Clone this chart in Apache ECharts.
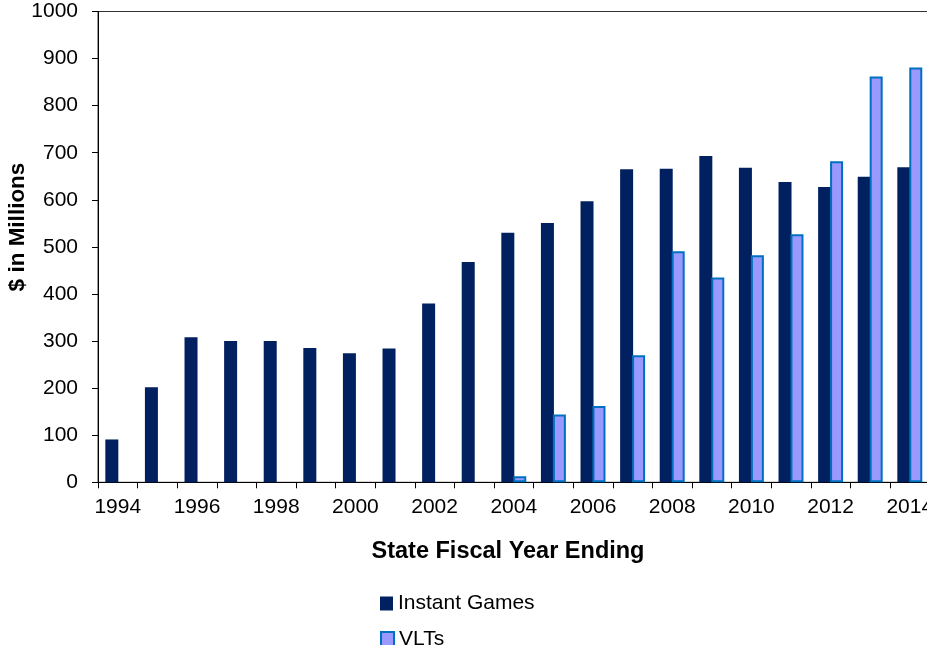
<!DOCTYPE html>
<html>
<head>
<meta charset="utf-8">
<script src="https://cdn.jsdelivr.net/npm/echarts@6/dist/echarts.min.js"></script>
<style>
  html, body { margin: 0; padding: 0; background: #fff; }
  #chart { width: 927px; height: 645px; }
</style>
</head>
<body>
<div id="chart"></div>
<script>
// Fiscal years on the category axis
const years = ['1994','1995','1996','1997','1998','1999','2000','2001','2002','2003','2004',
               '2005','2006','2007','2008','2009','2010','2011','2012','2013','2014'];

// Revenue, $ in millions
const instantGames = [91, 202, 308, 300, 300, 285, 274, 284, 380, 468, 530,
                      551, 597, 665, 666, 693, 668, 638, 627, 649, 669];
const vlts = [null, null, null, null, null, null, null, null, null, null, 13,
              144, 162, 270, 491, 435, 482, 527, 682, 862, 881];

const FONT = '"Liberation Sans", Arial, sans-serif';

const legendBase = {
  orient: 'vertical',
  left: 380,
  padding: 0,
  icon: 'rect',
  itemWidth: 13, itemHeight: 14,
  textStyle: { fontFamily: FONT, fontSize: 21, color: '#000' }
};

const chart = echarts.init(document.getElementById('chart'), null, { renderer: 'canvas' });

chart.setOption({
  animation: false,
  backgroundColor: '#fff',
  grid: {
    left: 98, top: 11.5, bottom: 162.7, right: -2.6,
    containLabel: false, outerBoundsMode: 'none',
    show: true, borderColor: '#333', borderWidth: 1, backgroundColor: 'transparent'
  },
  legend: [
    Object.assign({}, legendBase, { top: 593, data: ['Instant Games'] }),
    Object.assign({}, legendBase, { top: 628.5, data: ['VLTs'] })
  ],
  xAxis: {
    type: 'category',
    data: years,
    boundaryGap: true,
    axisLine: { lineStyle: { color: '#000', width: 1 } },
    axisTick: { show: true, interval: 0, length: 6, lineStyle: { color: '#000' } },
    axisLabel: { interval: 1, margin: 14, fontFamily: FONT, fontSize: 21, color: '#000' },
    splitLine: { show: false }
  },
  yAxis: {
    type: 'value',
    min: 0, max: 1000, interval: 100,
    axisLine: { show: true, lineStyle: { color: '#000', width: 1 } },
    axisTick: { show: true, length: 6, lineStyle: { color: '#000' } },
    axisLabel: { margin: 20, fontFamily: FONT, fontSize: 21, color: '#000',
                 formatter: v => String(v) },
    splitLine: { show: false }
  },
  graphic: [
    {
      type: 'text', x: 18, y: 227, rotation: Math.PI / 2,
      style: { text: '$ in Millions', font: 'bold 22.5px ' + FONT, fill: '#000',
               textAlign: 'center', textVerticalAlign: 'middle' }
    },
    {
      type: 'text', x: 508, y: 552,
      style: { text: 'State Fiscal Year Ending', font: 'bold 23.5px ' + FONT, fill: '#000',
               textAlign: 'center', textVerticalAlign: 'middle' }
    }
  ],
  series: [
    {
      name: 'Instant Games',
      type: 'bar',
      data: instantGames,
      barWidth: 13,
      barGap: '-8%',
      itemStyle: { color: '#002060' }
    },
    {
      name: 'VLTs',
      type: 'bar',
      data: vlts,
      barWidth: 13,
      itemStyle: { color: '#9999FF', borderColor: '#0070C0', borderWidth: 2 }
    }
  ]
});
</script>
</body>
</html>
